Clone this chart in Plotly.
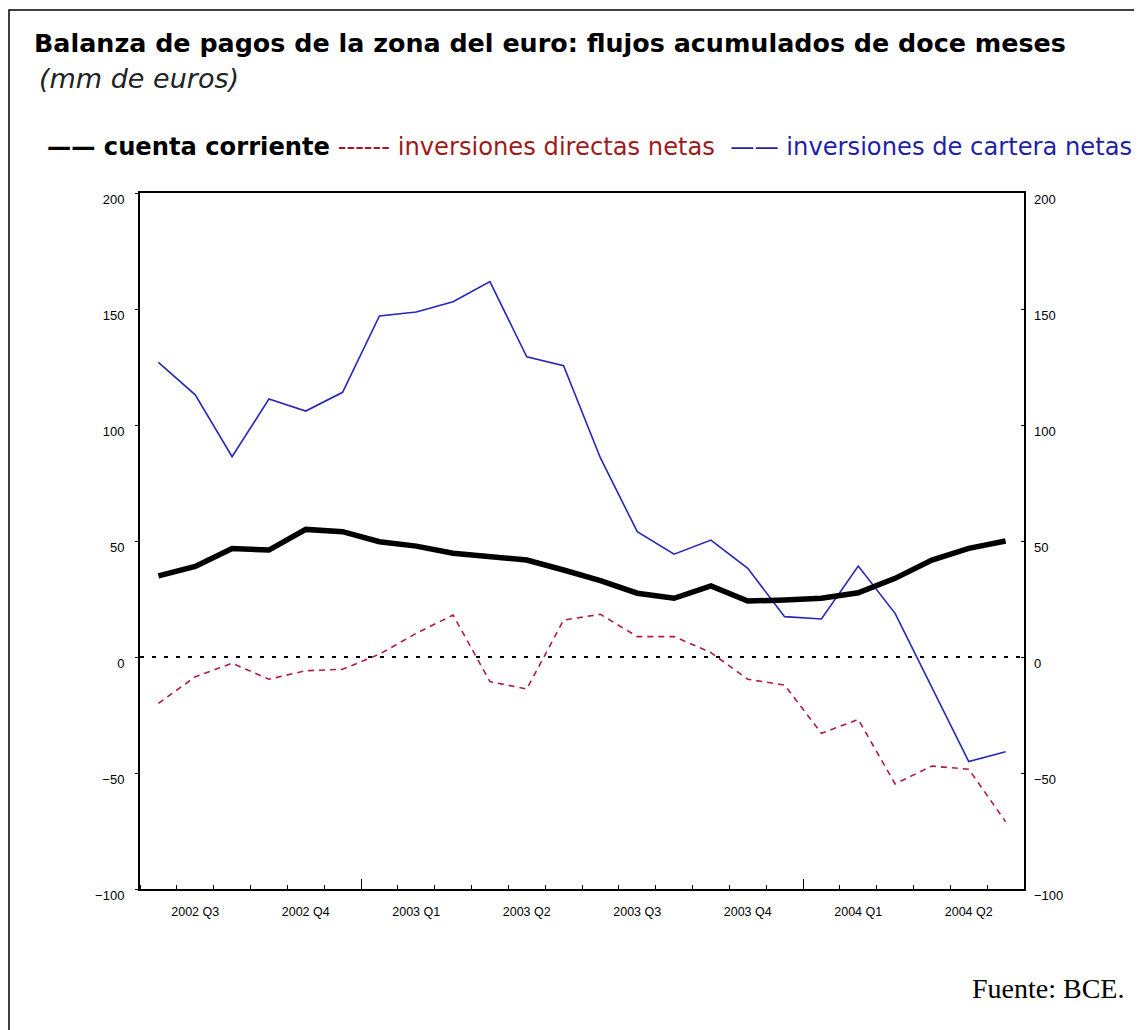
import plotly.graph_objects as go

# ---- data ----
months = ["2002-07", "2002-08", "2002-09", "2002-10", "2002-11", "2002-12",
          "2003-01", "2003-02", "2003-03", "2003-04", "2003-05", "2003-06",
          "2003-07", "2003-08", "2003-09", "2003-10", "2003-11", "2003-12",
          "2004-01", "2004-02", "2004-03", "2004-04", "2004-05", "2004-06"]
cuenta_corriente = [35.0, 39.0, 46.8, 46.1, 55.0, 54.0, 49.7, 47.8, 44.7, 43.2, 41.8, 37.5,
                    32.9, 27.5, 25.3, 30.6, 24.1, 24.6, 25.3, 27.7, 33.9, 41.8, 46.8, 50.0]
inv_directas = [-20.0, -8.5, -2.7, -9.6, -5.9, -5.3, 1.2, 10.2, 18.1, -10.6, -13.8, 15.9,
                18.4, 8.8, 8.8, 1.9, -9.6, -12.1, -32.9, -26.9, -54.7, -47.0, -48.4, -71.0]
inv_cartera = [127.0, 113.0, 86.3, 111.2, 106.0, 114.1, 147.0, 148.7, 153.1, 161.8, 129.4, 125.6,
               85.8, 54.0, 44.3, 50.4, 38.2, 17.4, 16.4, 39.2, 18.8, -13.0, -45.1, -40.8]
quarter_labels = ["2002 Q3", "2002 Q4", "2003 Q1", "2003 Q2", "2003 Q3", "2003 Q4", "2004 Q1", "2004 Q2"]
y_ticks = [-100, -50, 0, 50, 100, 150, 200]

OFF = 8  # page body margin
W, H = 1142 - OFF, 1030 - OFF
# plot box in screenshot coords: x 140..1024, y 193..889
ML, MT = 140 - OFF, 193 - OFF
MR = W - (1024 - OFF)
MB = H - (889 - OFF)
PW, PH = W - ML - MR, H - MT - MB


def px(x):
    return (x - OFF - ML) / PW


def py(y):
    return (H - MB - (y - OFF)) / PH


xs = list(range(len(months)))
label_pos = [1 + 3 * k for k in range(len(quarter_labels))]
year_bounds = [i - 0.5 for i, m in enumerate(months) if m.endswith("-01")]

fig = go.Figure()
fig.add_trace(go.Scatter(x=xs, y=inv_cartera, mode="lines", name="inversiones de cartera netas",
                         line=dict(color="#2626b8", width=1.6)))
fig.add_trace(go.Scatter(x=xs, y=inv_directas, mode="lines", name="inversiones directas netas",
                         line=dict(color="#b01850", width=1.6, dash="6px,5px")))
fig.add_trace(go.Scatter(x=xs, y=cuenta_corriente, mode="lines", name="cuenta corriente",
                         line=dict(color="black", width=5.5)))
# invisible trace for secondary axes
fig.add_trace(go.Scatter(x=[xs[0]], y=[0], xaxis="x2", yaxis="y2", mode="lines",
                         line=dict(width=0), showlegend=False, hoverinfo="skip"))

fig.add_hline(y=0, line=dict(color="black", width=2, dash="4px,8px"))

ytick_font = dict(family="Liberation Sans, Arial", size=13, color="black")
xtick_font = dict(family="Liberation Sans, Arial", size=12.5, color="black")
xr = [-0.5, len(months) - 0.5]
fig.update_layout(
    width=W, height=H,
    margin=dict(l=ML, r=MR, t=MT, b=MB),
    paper_bgcolor="white", plot_bgcolor="white",
    showlegend=False,
    xaxis=dict(range=xr, tickmode="array", tickvals=label_pos, ticktext=quarter_labels,
               ticks="", showgrid=False, zeroline=False, tickfont=xtick_font,
               ticklabelstandoff=10,
               showline=True, linecolor="black", linewidth=2, mirror=True,
               minor=dict(tick0=-0.5, dtick=1, ticks="inside", ticklen=4, tickcolor="black",
                          tickwidth=1, showgrid=False)),
    xaxis2=dict(range=xr, overlaying="x", tickmode="array", tickvals=year_bounds,
                ticks="inside", ticklen=10, tickcolor="black", tickwidth=1,
                showticklabels=False, showgrid=False, zeroline=False, side="bottom"),
    yaxis=dict(range=[-100, 200], tickmode="array", tickvals=y_ticks, ticks="outside",
               ticklen=3, tickcolor="black", showgrid=False, zeroline=False, tickfont=ytick_font,
               ticklabelstandoff=8, ticklabelshift=6,
               showline=True, linecolor="black", linewidth=2, mirror=True),
    yaxis2=dict(range=[-100, 200], overlaying="y", side="right", tickmode="array",
                tickvals=y_ticks, ticks="inside", ticklen=3, tickcolor="black",
                ticklabelstandoff=9, ticklabelshift=6,
                showgrid=False, zeroline=False, tickfont=ytick_font),
)

# outer frame
fig.add_shape(type="rect", xref="paper", yref="paper", x0=px(9), x1=px(1160), y0=py(1050), y1=py(10),
              line=dict(color="black", width=1.5), fillcolor="rgba(0,0,0,0)", layer="below")

fig.add_annotation(xref="paper", yref="paper", x=px(32), y=py(43), xanchor="left", yanchor="middle",
                   text="<b>Balanza de pagos de la zona del euro: flujos acumulados de doce meses</b>",
                   showarrow=False, font=dict(family="DejaVu Sans", size=25.4, color="black"))
fig.add_annotation(xref="paper", yref="paper", x=px(37), y=py(78), xanchor="left", yanchor="middle",
                   text="<i>(mm de euros)</i>",
                   showarrow=False, font=dict(family="DejaVu Sans", size=27, color="#222222"))
fig.add_annotation(xref="paper", yref="paper", x=px(45), y=py(147), xanchor="left", yanchor="middle",
                   text=("<b><span style='color:black'>—— cuenta corriente</span></b>"
                         "<span style='color:#9e1b1b'> ------ inversiones directas netas</span>"
                         "<span style='color:#1f1fa8'>  —— inversiones de cartera netas</span>"),
                   showarrow=False, font=dict(family="DejaVu Sans", size=24.2, color="black"))
fig.add_annotation(xref="paper", yref="paper", x=px(1126), y=py(988), xanchor="right", yanchor="middle",
                   text="Fuente: BCE.", showarrow=False,
                   font=dict(family="Liberation Serif", size=28, color="black"))

fig.write_html("out.html")
